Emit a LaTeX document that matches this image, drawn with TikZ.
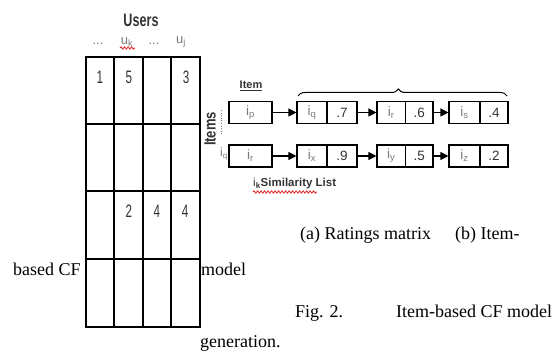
\documentclass[tikz,border=0pt]{standalone}
\usepackage{fontspec}
\setmainfont{Liberation Serif}
\newfontfamily\sansf{Liberation Sans}
\usetikzlibrary{arrows.meta,decorations.pathreplacing,decorations.pathmorphing}
\definecolor{lbl}{HTML}{7A7A7A}
\definecolor{dk}{HTML}{333333}
\definecolor{sq}{HTML}{E02020}
\begin{document}
\begin{tikzpicture}[x=1pt,y=-1pt,
  gridline/.style={line width=1.2pt},
  captext/.style={anchor=base west, inner sep=0, text=black, font=\fontsize{18}{20}\selectfont},
  num/.style={inner sep=0, text=dk, font=\sansf\fontsize{18}{20}\selectfont},
  head/.style={inner sep=0, text=lbl, font=\sansf\fontsize{13}{15}\selectfont},
  boxhalf/.style={draw, line width=1.1pt, minimum height=22pt, inner sep=0, font=\sansf\fontsize{13.5}{15}\selectfont},
  nm/.style={text=lbl},
  val/.style={text=dk},
  arr/.style={line width=1.1pt, -{Triangle[length=8pt,width=8pt]}},
  squig/.style={sq, line width=0.8pt, decorate, decoration={snake, amplitude=1.2pt, segment length=3.5pt}}
]
\useasboundingbox (0,0) rectangle (553,352);
% ratings matrix grid
\draw[gridline] (86,57) rectangle (200,327);
\foreach \x in {114,143,171} \draw[gridline] (\x,57) -- (\x,327);
\foreach \y in {124,191,259} \draw[gridline] (86,\y) -- (200,\y);
% header
\node[inner sep=0, text=dk, font=\sansf\bfseries\fontsize{18}{20}\selectfont] (users) at (141,20) {\scalebox{0.7}[1]{Users}};
\node[head] (d1) at (98,44) {...};
\node[head] (uk) at (127,42) {u\textsubscript{k}};
\node[head] (d2) at (154,44) {...};
\node[head] (uj) at (181,42) {u\textsubscript{j}};
\coordinate (ska) at (120,48);
\coordinate (skb) at (135,48);
\draw[squig] (ska) -- (skb);
% matrix values
\node[num] (n1) at (100,77) {\scalebox{0.65}[1]{1}};
\node[num] (n5) at (129,77) {\scalebox{0.65}[1]{5}};
\node[num] (n3) at (186,77) {\scalebox{0.65}[1]{3}};
\node[num] (n2) at (129,211) {\scalebox{0.65}[1]{2}};
\node[num] (n4a) at (157,211) {\scalebox{0.65}[1]{4}};
\node[num] (n4b) at (185,211) {\scalebox{0.65}[1]{4}};
% Items label
\node[inner sep=0, text=dk, rotate=90, font=\sansf\bfseries\fontsize{13}{15}\selectfont] (items) at (210,129) {\scalebox{1}[1.25]{Items}};
\coordinate (dta) at (221,110);
\coordinate (dtb) at (221,136);
\draw[lbl, dotted, line width=0.6pt] (dta) -- (dtb);
\node[inner sep=0, text=lbl, font=\sansf\fontsize{12}{14}\selectfont] (iqlab) at (224,154) {i\textsubscript{q}};
% item column
\node[inner sep=0, text=dk, font=\sansf\bfseries\fontsize{11}{13}\selectfont] (itemh) at (251,86) {\underline{Item}};
\node[boxhalf, minimum width=43pt, nm] (ip) at (250.5,112.5) {i\textsubscript{p}};
\node[boxhalf, minimum width=43pt, nm] (ir0) at (250.5,156) {i\textsubscript{r}};
% row 1 list
\node[boxhalf, minimum width=30pt, nm] (iq) at (312,112.5) {i\textsubscript{q}};
\node[boxhalf, minimum width=30pt, val] (v7) at (342,112.5) {.7};
\node[boxhalf, minimum width=28.5pt, nm] (ir1) at (391.25,112.5) {i\textsubscript{r}};
\node[boxhalf, minimum width=27.5pt, val] (v6) at (419.25,112.5) {.6};
\node[boxhalf, minimum width=31pt, nm] (is) at (464.5,112.5) {i\textsubscript{s}};
\node[boxhalf, minimum width=28pt, val] (v4) at (494,112.5) {.4};
% row 2 list
\node[boxhalf, minimum width=30pt, nm] (ix) at (312,156) {i\textsubscript{x}};
\node[boxhalf, minimum width=30pt, val] (v9) at (342,156) {.9};
\node[boxhalf, minimum width=28.5pt, nm] (iy) at (391.25,156) {i\textsubscript{y}};
\node[boxhalf, minimum width=27.5pt, val] (v5) at (419.25,156) {.5};
\node[boxhalf, minimum width=31pt, nm] (iz) at (464.5,156) {i\textsubscript{z}};
\node[boxhalf, minimum width=28pt, val] (v2) at (494,156) {.2};
% arrows
\draw[arr] (ip.east) -- (iq.west);
\draw[arr] (v7.east) -- (ir1.west);
\draw[arr] (v6.east) -- (is.west);
\draw[arr] (ir0.east) -- (ix.west);
\draw[arr] (v9.east) -- (iy.west);
\draw[arr] (v5.east) -- (iz.west);
% brace
\coordinate (bra) at (298,96);
\coordinate (brb) at (507,96);
\draw[line width=1pt, decorate, decoration={brace, amplitude=7pt, aspect=0.48}] (bra) -- (brb);
% similarity list label
\node[inner sep=0, text=dk, anchor=base west, font=\sansf\bfseries\fontsize{11.5}{13}\selectfont] (siml) at (253,187) {\textmd{i}\textsubscript{k}Similarity List};
\coordinate (ssa) at (253,192);
\coordinate (ssb) at (317,192);
\draw[squig] (ssa) -- (ssb);
% captions
\node[captext] (ca) at (300,240) {(a) Ratings matrix};
\node[captext] (cb) at (455,240) {(b) Item-};
\node[captext] (cc) at (13,275) {based CF};
\node[captext] (cd) at (201,275) {model};
\node[captext] (ce) at (295,317) {Fig. 2.};
\node[captext] (cf) at (396,317) {Item-based CF model};
\node[captext] (cg) at (200,347) {generation.};
\end{tikzpicture}
\end{document}
